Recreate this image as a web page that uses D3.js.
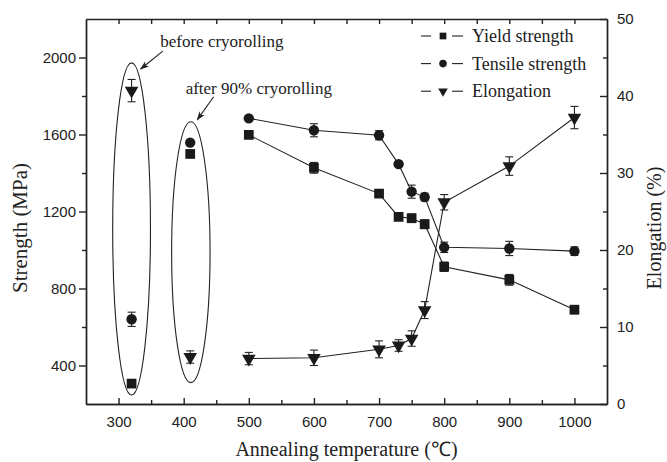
<!DOCTYPE html>
<html>
<head>
<meta charset="utf-8">
<script src="https://cdn.jsdelivr.net/npm/d3@7"></script>
<style>
  body { margin: 0; background: #fff; }
  svg { display: block; }
  .tick text { font-family: "Liberation Sans", Arial, sans-serif; font-size: 15px; fill: #222; }
  .domain, .tick line { stroke: #222; stroke-width: 1.4px; }
</style>
</head>
<body>
<div id="chart"></div>
<script>
// Annealing series (connected)
var temps      = [500, 600, 700, 730, 750, 770, 800, 900, 1000];
var yieldVals  = [1598, 1427, 1293, 1172, 1165, 1134, 913, 845, 690];
var yieldErr   = [8, 28, 16, 10, 22, 23, 24, 28, 21];
var tensVals   = [1684, 1622, 1596, 1446, 1303, 1275, 1014, 1008, 994];
var tensErr    = [10, 34, 24, 12, 34, 20, 27, 37, 22];
var elongVals  = [5.9, 6.0, 7.1, 7.6, 8.5, 12.2, 26.2, 30.9, 37.2];
var elongErr   = [0.8, 1.0, 1.1, 0.75, 1.0, 1.1, 1.0, 1.2, 1.45];

// Unconnected reference points: before cryorolling / after 90% cryorolling
var refTemps     = [320, 410];
var refYield     = [306, 1499];
var refYieldErr  = [10, 0];
var refTens      = [640, 1558];
var refTensErr   = [37, 0];
var refElong     = [40.7, 6.1];
var refElongErr  = [1.45, 0.8];

// axis ticks
var xMajor = [300, 400, 500, 600, 700, 800, 900, 1000];
var xMinor = [350, 450, 550, 650, 750, 850, 950];
var yMajor = [400, 800, 1200, 1600, 2000];
var yMinor = [600, 1000, 1400, 1800];
var y2Major = [0, 10, 20, 30, 40, 50];
var y2Minor = [5, 15, 25, 35, 45];

var legendLabels = ["Yield strength", "Tensile strength", "Elongation"];

// annotation ellipses [cx, rx, yTop, yBottom] in data units
var ellipses = [
    [320, 29, 1972, 247],
    [411, 29.5, 1666, 311]
];

var SERIF = "'Liberation Serif', 'Times New Roman', serif";

var W = 667, H = 462;
var margin = {top: 19, right: 60, bottom: 58, left: 86};
var width = W - margin.left - margin.right;
var height = H - margin.top - margin.bottom;

var svg = d3.select("#chart").append("svg")
    .attr("width", W)
    .attr("height", H);

var defs = svg.append("defs");
defs.append("marker")
    .attr("id", "arrow")
    .attr("viewBox", "0 0 10 10")
    .attr("refX", 9).attr("refY", 5)
    .attr("markerWidth", 9).attr("markerHeight", 9)
    .attr("markerUnits", "userSpaceOnUse")
    .attr("orient", "auto")
  .append("path")
    .attr("d", "M0,1.5L10,5L0,8.5L2.5,5Z")
    .style("fill", "#222");

var g = svg.append("g")
    .attr("transform", "translate(" + margin.left + "," + margin.top + ")");

var x = d3.scaleLinear().domain([250, 1050]).range([0, width]);
var y = d3.scaleLinear().domain([200, 2200]).range([height, 0]);
var y2 = d3.scaleLinear().domain([0, 50]).range([height, 0]);

function serifText(sel, size) {
    return sel.attr("font-family", SERIF)
        .style("font-family", SERIF)
        .style("font-size", size + "px")
        .style("fill", "#222");
}

// --- axes ------------------------------------------------------
g.append("g")
    .attr("transform", "translate(0," + height + ")")
    .call(d3.axisBottom(x).tickValues(xMajor).tickSizeInner(-6).tickSizeOuter(0).tickPadding(12).tickFormat(d3.format("d")));
g.append("g")
    .attr("transform", "translate(0," + height + ")")
    .call(d3.axisBottom(x).tickValues(xMinor).tickSizeInner(-4).tickSizeOuter(0).tickFormat(""));
g.append("g")
    .call(d3.axisTop(x).tickValues(xMajor.concat(xMinor)).tickSizeInner(-5).tickSizeOuter(0).tickFormat(""));

g.append("g")
    .call(d3.axisLeft(y).tickValues(yMajor).tickSizeInner(7).tickSizeOuter(0).tickPadding(3).tickFormat(d3.format("d")));
g.append("g")
    .call(d3.axisLeft(y).tickValues(yMinor).tickSizeInner(4).tickSizeOuter(0).tickFormat(""));

g.append("g")
    .attr("transform", "translate(" + width + ",0)")
    .call(d3.axisRight(y2).tickValues(y2Major).tickSizeInner(-7).tickSizeOuter(0).tickPadding(10));
g.append("g")
    .attr("transform", "translate(" + width + ",0)")
    .call(d3.axisRight(y2).tickValues(y2Minor).tickSizeInner(-4).tickSizeOuter(0).tickFormat(""));

// axis titles
serifText(svg.append("text"), 20)
    .attr("x", margin.left + width / 2)
    .attr("y", 456)
    .attr("text-anchor", "middle")
    .text("Annealing temperature (℃)");

serifText(svg.append("text"), 21)
    .attr("transform", "translate(27," + (margin.top + 209) + ") rotate(-90)")
    .attr("text-anchor", "middle")
    .text("Strength (MPa)");

serifText(svg.append("text"), 20)
    .attr("transform", "translate(661," + (margin.top + 209) + ") rotate(-90)")
    .attr("text-anchor", "middle")
    .text("Elongation (%)");

// --- symbols ---------------------------------------------------
var sq = d3.symbol().type(d3.symbolSquare).size(95);
var ci = d3.symbol().type(d3.symbolCircle).size(85);
var tri = d3.symbol().type(d3.symbolTriangle).size(80);

function series(xs, vals, errs, sc, sym, rot, connect) {
    var pts = xs.map(function(t, i) { return {t: t, v: vals[i], e: errs[i]}; });

    if (connect) {
        g.append("path")
            .datum(pts)
            .attr("d", d3.line().x(function(d) { return x(d.t); }).y(function(d) { return sc(d.v); }))
            .style("fill", "none")
            .style("stroke", "#222")
            .style("stroke-width", 1.1);
    }

    // error bars
    var eb = g.append("g").selectAll("g")
        .data(pts.filter(function(d) { return d.e > 0; }))
      .enter().append("g")
        .style("stroke", "#222")
        .style("stroke-width", 1.1);
    eb.append("line")
        .attr("x1", function(d) { return x(d.t); })
        .attr("x2", function(d) { return x(d.t); })
        .attr("y1", function(d) { return sc(d.v - d.e); })
        .attr("y2", function(d) { return sc(d.v + d.e); });
    [-1, 1].forEach(function(s) {
        eb.append("line")
            .attr("x1", function(d) { return x(d.t) - 4; })
            .attr("x2", function(d) { return x(d.t) + 4; })
            .attr("y1", function(d) { return sc(d.v + s * d.e); })
            .attr("y2", function(d) { return sc(d.v + s * d.e); });
    });

    g.append("g").selectAll("path")
        .data(pts)
      .enter().append("path")
        .attr("d", sym)
        .attr("transform", function(d) { return "translate(" + x(d.t) + "," + sc(d.v) + ") rotate(" + rot + ")"; })
        .style("fill", "#1a1a1a");
}

series(temps, yieldVals, yieldErr, y, sq, 0, true);
series(temps, tensVals, tensErr, y, ci, 0, true);
series(temps, elongVals, elongErr, y2, tri, 180, true);

series(refTemps, refYield, refYieldErr, y, sq, 0, false);
series(refTemps, refTens, refTensErr, y, ci, 0, false);
series(refTemps, refElong, refElongErr, y2, tri, 180, false);

// --- annotations -----------------------------------------------
g.selectAll(".ell")
    .data(ellipses)
  .enter().append("ellipse")
    .attr("class", "ell")
    .attr("cx", function(d) { return x(d[0]); })
    .attr("rx", function(d) { return x(d[0] + d[1]) - x(d[0]); })
    .attr("cy", function(d) { return (y(d[2]) + y(d[3])) / 2; })
    .attr("ry", function(d) { return (y(d[3]) - y(d[2])) / 2; })
    .style("fill", "none")
    .style("stroke", "#222")
    .style("stroke-width", 1.1);

// arrows [x1, y1, x2, y2] in data units
var arrows = [
    [368, 2033, 334, 1940],
    [446, 1796, 421, 1677]
];
g.selectAll(".arr")
    .data(arrows)
  .enter().append("line")
    .attr("x1", function(d) { return x(d[0]); })
    .attr("y1", function(d) { return y(d[1]); })
    .attr("x2", function(d) { return x(d[2]); })
    .attr("y2", function(d) { return y(d[3]); })
    .attr("marker-end", "url(#arrow)")
    .style("stroke", "#222")
    .style("stroke-width", 1.1);

serifText(g.append("text"), 17)
    .attr("x", x(364)).attr("y", y(2055))
    .text("before cryorolling");
serifText(g.append("text"), 17)
    .attr("x", x(403)).attr("y", y(1810))
    .text("after 90% cryorolling");

// --- legend ----------------------------------------------------
var legSyms = [
    d3.symbol().type(d3.symbolSquare).size(45),
    d3.symbol().type(d3.symbolCircle).size(45),
    d3.symbol().type(d3.symbolTriangle).size(40)
];
var legRot = [0, 0, 180];
var leg = svg.append("g").attr("transform", "translate(421,36)");
legendLabels.forEach(function(lab, i) {
    var row = leg.append("g").attr("transform", "translate(0," + (i * 27.6) + ")");
    row.append("line").attr("x1", 0).attr("x2", 10).attr("y1", 0).attr("y2", 0)
        .style("stroke", "#222").style("stroke-width", 1.1);
    row.append("line").attr("x1", 31).attr("x2", 42).attr("y1", 0).attr("y2", 0)
        .style("stroke", "#222").style("stroke-width", 1.1);
    row.append("path").attr("d", legSyms[i])
        .attr("transform", "translate(22,0) rotate(" + legRot[i] + ")")
        .style("fill", "#1a1a1a");
    serifText(row.append("text"), 18)
        .attr("x", 51).attr("y", 6)
        .text(lab);
});
</script>
</body>
</html>
